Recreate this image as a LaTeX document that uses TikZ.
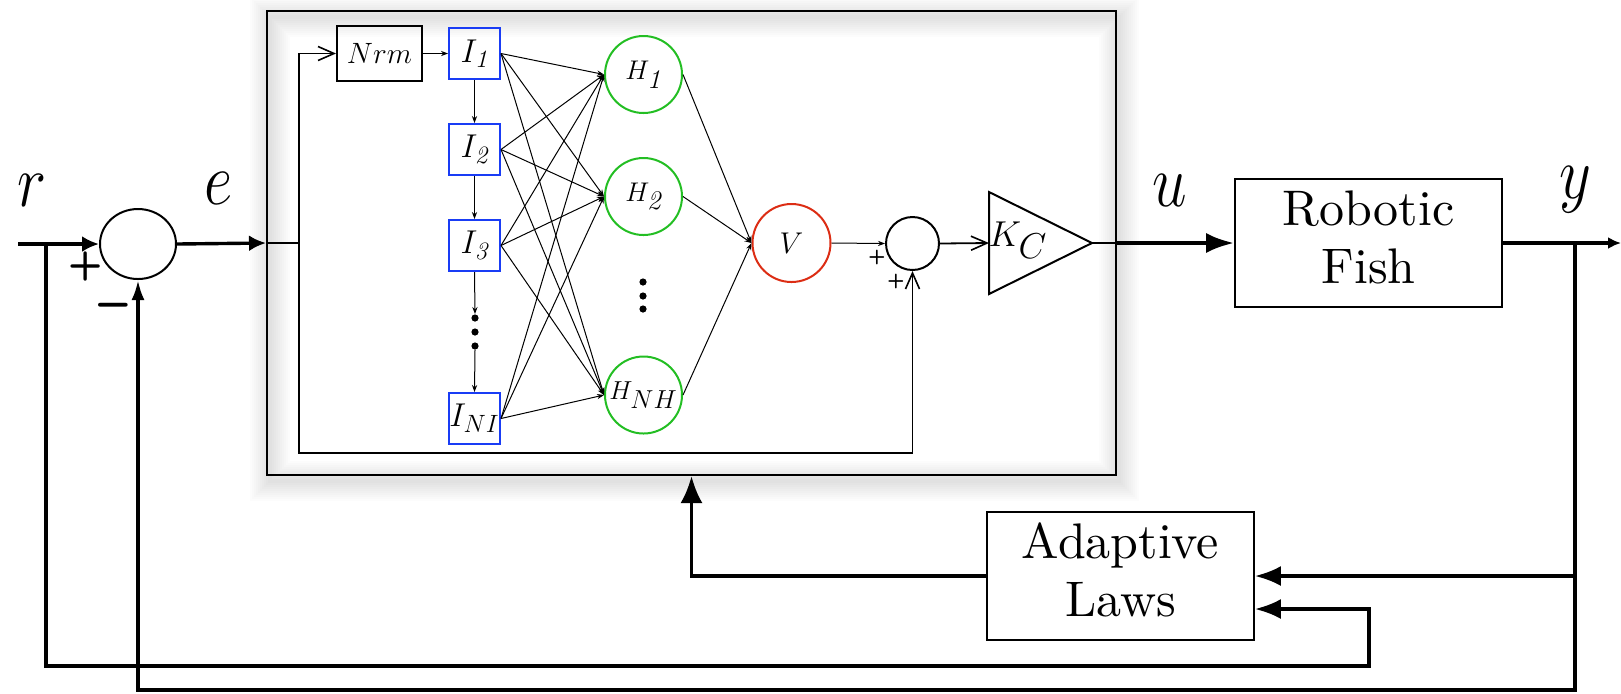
\RequirePackage{fix-cm}
\documentclass[tikz,border=0pt]{standalone}
\usepackage{fontspec}
\usetikzlibrary{arrows.meta,shapes.geometric,calc}

\definecolor{iblue}{RGB}{25,60,245}
\definecolor{hgreen}{RGB}{35,190,35}
\definecolor{vred}{RGB}{220,45,20}

% subscript set at a fixed, fairly large size
\newcommand{\isub}[1]{_{\hbox{\fontsize{12.5}{12.5}\selectfont$#1$}}}

% large signal names, slightly tall
\newcommand{\sig}[1]{\scalebox{1}[1.2]{\fontsize{31}{31}\selectfont$#1$}}
% block captions: 10pt design size, enlarged
\newcommand{\blkcaption}[2]{\scalebox{2.5}{\fontsize{10}{11.7}\selectfont
  \begin{tabular}{@{}c@{}}#1\\#2\end{tabular}}}

\tikzset{
  x=0.5pt, y=-0.5pt,
  thk/.style={line width=1.7pt},
  inner/.style={line width=0.7pt},
  net/.style={line width=0.5pt, -{Stealth[length=3.5pt,width=2.6pt]}},
  openarr/.style={-{Straight Barb[length=8pt,width=7pt,line width=0.8pt]}},
  bigarr/.style={-{Latex[length=8.5pt,width=8pt]}},
  inbox/.style={draw=iblue, line width=1pt, minimum width=25.5pt, minimum height=25.5pt,
    inner sep=0pt, font=\fontsize{16.5}{16.5}\selectfont},
  hid/.style={circle, draw=hgreen, line width=1pt, minimum size=38.5pt, inner sep=0pt},
  blk/.style={draw, line width=0.9pt, minimum width=133.5pt, minimum height=64pt,
    inner sep=0pt, align=center},
  dot/.style={circle, fill, inner sep=0pt, minimum size=3.6pt},
  pm/.style={font=\sffamily\bfseries\fontsize{20}{20}\selectfont, inner sep=0pt},
  pms/.style={font=\sffamily\bfseries\fontsize{10}{10}\selectfont, inner sep=0pt},
}

\begin{document}
\begin{tikzpicture}
\useasboundingbox (0,0) rectangle (1621,693);

% soft shadow around the controller frame
\foreach \k in {1,...,10}
  \draw[black, opacity=0.013, line width=\k*2pt] (270,17) rectangle (1119,481);

% controller frame
\node[draw, line width=1pt, minimum width=424.5pt, minimum height=232pt, inner sep=0pt]
  (ctrl) at (691.5,243) {};

% outer loop blocks
\node[draw, ellipse, line width=1pt, minimum width=38pt, minimum height=35pt, inner sep=0pt]
  (s1) at (138,244) {};
\node[blk] (rf) at (1368.5,243) {\blkcaption{Robotic}{Fish}};
\node[blk] (al) at (1120.5,576) {\blkcaption{Adaptive}{Laws}};

% network inside the controller
\node[draw, line width=1pt, minimum width=42.5pt, minimum height=27.5pt, inner sep=0pt,
  font=\fontsize{14.7}{14.7}\selectfont] (nrm) at (379.5,53.5) {$Nrm$};
\node[inbox] (i1) at (474.5,53.5) {$I\isub{\mathit{1}}$};
\node[inbox] (i2) at (474.5,149.5) {$I\isub{\mathit{2}}$};
\node[inbox] (i3) at (474.5,245.5) {$I\isub{\mathit{3}}$};
\node[inbox] (in) at (474.5,418.5) {$I\isub{NI}$};
\node[dot] (d1) at (475,318) {};
\node[dot] (d2) at (475,332) {};
\node[dot] (d3) at (475,346) {};

\node[hid, font=\fontsize{13.5}{13.5}\selectfont] (h1) at (643.5,74.5) {$H_{\textstyle\mathit{1}}$};
\node[hid, font=\fontsize{13.5}{13.5}\selectfont] (h2) at (643.5,196.5) {$H_{\textstyle\mathit{2}}$};
\node[hid, font=\fontsize{13}{13}\selectfont] (hn) at (643.5,395) {$H_{\textstyle NH}$};
\node[dot] (e1) at (643,282) {};
\node[dot] (e2) at (643,296) {};
\node[dot] (e3) at (643,309) {};

\node[circle, draw=vred, line width=1pt, minimum size=39pt, inner sep=0pt,
  font=\fontsize{15}{15}\selectfont] (v) at (791.5,243) {$V$};
\node[circle, draw, line width=1pt, minimum size=26.5pt, inner sep=0pt] (s2) at (912.5,243.5) {};

% gain triangle
\coordinate (kcin) at (989,243);
\coordinate (kcout) at (1092,243);
\draw[line width=1pt] (989,192) -- (kcout) -- (989,294) -- cycle;
\node[font=\fontsize{18}{18}\selectfont, inner sep=0pt] (kc) at (1018,240) {$K_{\textstyle C}$};

% signal names
\node (lr) at (32,190) {\sig{r}};
\node (le) at (219,188) {\sig{e}};
\node (lu) at (1170,190) {\sig{u}};
\node (ly) at (1575,190) {\sig{y}};

% signs
\node[pm] (p1) at (86,266) {+};
\node[pm, font=\sffamily\bfseries\fontsize{27}{27}\selectfont] (m1) at (113,312) {--};
\node[pms] (p2) at (877,257) {+};
\node[pms] (p3) at (896,281) {+};

% junctions
\coordinate (rin) at (18,244);
\coordinate (rj) at (46,244);
\coordinate (rb) at (46,666);
\coordinate (rc) at (1369,666);
\coordinate (alin2) at ($(al.east)+(0,33)$);
\coordinate (ej) at (299,243);
\coordinate (eb) at (299,453);
\coordinate (yj) at (1575,243);
\coordinate (yb) at (1575,690);
\coordinate (yout) at (1621,243);

% network connections
\draw[net] (nrm.east) -- (i1.west);
\draw[net] (i1.south) -- (i2.north);
\draw[net] (i2.south) -- (i3.north);
\draw[net] (i3.south) -- (d1.north);
\draw[net] (d3.south) -- (in.north);
\foreach \i in {i1,i2,i3,in}
  \foreach \h in {h1,h2,hn}
    \draw[net] (\i.east) -- (\h.west);
\foreach \h in {h1,h2,hn}
  \draw[net] (\h.east) -- (v.west);
\draw[net] (v.east) -- (s2.west);
\draw[line width=0.9pt, openarr] (s2.east) -- (kcin);

% error distribution inside the controller
\draw[inner] (ctrl.west) -- (ej);
\draw[inner, openarr] (ej) |- (nrm.west);
\draw[inner, openarr] (ej) -- (eb) -| (s2.south);

% outer loop
\draw[thk, bigarr] (rin) -- (s1.west);
\draw[thk, bigarr] (s1.east) -- (ctrl.west);
\draw[line width=0.8pt] (kcout) -- (ctrl.east |- kcout);
\draw[line width=2pt, -{Latex[length=14pt,width=10pt]}] (ctrl.east |- kcout) -- (rf.west);
\draw[thk, -{Latex[length=6.5pt,width=6pt]}] (rf.east) -- (yout);
\draw[thk, -{Latex[length=10pt,width=6.5pt]}] (yj) -- (yb) -| (s1.south);
\draw[thk, -{Latex[length=13pt,width=10pt]}] (yj |- al.east) -- (al.east);
\draw[thk, -{Latex[length=13pt,width=10pt]}] (rj) -- (rb) -- (rc) |- (alin2);
\draw[thk, -{Latex[length=13.5pt,width=11pt]}] (al.west) -| (ctrl.south);
\end{tikzpicture}
\end{document}
